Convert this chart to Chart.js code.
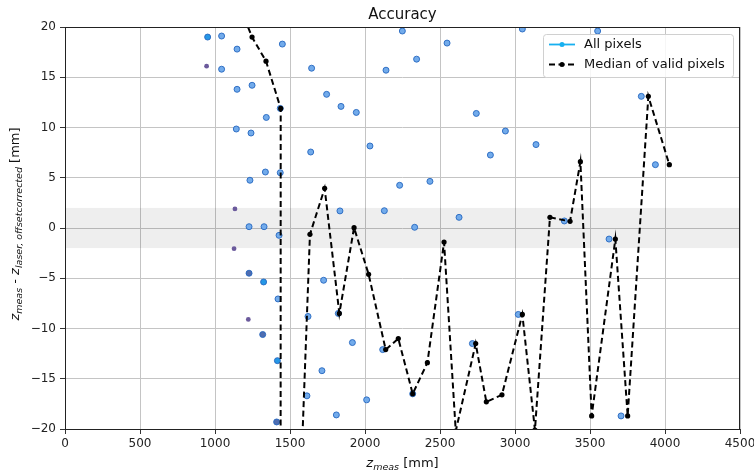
<!DOCTYPE html>
<html>
<head>
<meta charset="utf-8">
<script src="https://cdn.jsdelivr.net/npm/chart.js@4/dist/chart.umd.min.js"></script>
<style>
  html, body { margin: 0; padding: 0; background: #fff; }
  canvas { display: block; }
</style>
</head>
<body>
<canvas id="graph" width="754" height="475"></canvas>
<script>
// measured depth vs. laser reference, all pixels and per-distance median
const allX = [951, 1044, 1147, 1449, 944, 1044, 1644, 1147, 1247, 1744, 1840, 1942, 1435, 1342,
  1142, 1240, 2033, 1638, 1336, 1435, 1233, 1833, 1133, 1227, 1327, 1427, 1127, 1227, 1324,
  1724, 1420, 1620, 1822, 1222, 1318, 1916, 1416, 1713, 1613, 2011, 1809, 1411, 2249, 3049,
  2547, 2344, 2140, 2742, 2936, 3140, 2836, 2231, 2433, 2129, 2627, 2331, 3329, 2118, 2318,
  2716, 3022, 3551, 3842, 3936, 3627, 3707];
const allY = [19.0, 19.1, 17.8, 18.3, 16.1, 15.8, 15.9, 13.8, 14.2, 13.3, 12.1, 11.5, 11.9, 11.0,
  9.85, 9.45, 8.16, 7.56, 5.57, 5.5, 4.75, 1.7, 1.9, 0.13, 0.13, -0.73, -2.06, -4.5, -5.37,
  -5.2, -7.06, -8.8, -8.5, -9.1, -10.6, -11.4, -13.2, -14.2, -16.7, -17.1, -18.6, -19.3, 19.6, 19.8,
  18.4, 16.8, 15.7, 11.4, 9.65, 8.3, 7.26, 4.25, 4.64, 1.72, 1.06, 0.07, 0.7, -12.1, -16.5,
  -11.5, -8.6, 19.6, 13.1, 6.3, -1.1, -18.7];

const medX = [1150, 1247, 1340, 1438, 1437, 1535, 1633, 1731, 1829, 1927, 2024, 2138, 2222, 2318,
  2416, 2527, 2605, 2738, 2809, 2913, 3049, 3133, 3233, 3367, 3436, 3511, 3669, 3751, 3889, 4029];
const medY = [22.6, 19.0, 16.6, 11.9, -60, -40, -0.63, 3.95, -8.5, 0.03, -4.6, -12.1, -11.0, -16.5,
  -13.4, -1.4, -20.2, -11.5, -17.3, -16.6, -8.6, -20.1, 1.06, 0.66, 6.6, -18.7, -1.1, -18.7, 13.1, 6.3];

const xTicks = [0, 500, 1000, 1500, 2000, 2500, 3000, 3500, 4000, 4500];
const yTicks = [-20, -15, -10, -5, 0, 5, 10, 15, 20];
const tolBand = [-2, 2];

const seriesNames = ['All pixels', 'Median of valid pixels'];

// point shading: a few pixels are drawn darker / purple
const faintIdx = new Set([4, 22, 26, 33]);
const deepIdx = new Set([27, 34, 41]);
const brightIdx = new Set([0, 28, 36]);

const FONT = "'DejaVu Sans', sans-serif";

function fillFor(i) {
  if (faintIdx.has(i)) return '#6b5a9c';
  if (deepIdx.has(i)) return '#4f6db0';
  if (brightIdx.has(i)) return '#2597e6';
  return '#72abeb';
}
function edgeFor(i) {
  if (faintIdx.has(i)) return '#6b5a9c';
  return '#2566c0';
}

const decor = {
  id: 'decor',
  beforeDatasetsDraw(chart) {
    const { ctx, chartArea: a, scales: { y } } = chart;
    const top = y.getPixelForValue(tolBand[1]);
    const bot = y.getPixelForValue(tolBand[0]);
    ctx.save();
    ctx.fillStyle = 'rgba(0,0,0,0.065)';
    ctx.fillRect(a.left, top, a.right - a.left, bot - top);
    ctx.restore();
  },
  afterDraw(chart) {
    const { ctx, chartArea: a } = chart;
    ctx.save();
    // frame
    ctx.strokeStyle = '#222';
    ctx.lineWidth = 1;
    ctx.strokeRect(a.left + 0.5, a.top + 0.5, a.right - a.left - 1, a.bottom - a.top);

    // title
    ctx.fillStyle = '#111';
    ctx.font = '15px ' + FONT;
    ctx.textAlign = 'center';
    ctx.textBaseline = 'alphabetic';
    ctx.fillText('Accuracy', (a.left + a.right) / 2, 19);

    // x axis label
    drawMath(ctx, [['z', 'main'], ['meas', 'sub'], [' [mm]', 'plain']], (a.left + a.right) / 2, 467);

    // y axis label, rotated
    ctx.save();
    ctx.translate(19, (a.top + a.bottom) / 2 - 4);
    ctx.rotate(-Math.PI / 2);
    drawMath(ctx, [['z', 'main'], ['meas', 'sub'], [' - ', 'plain'], ['z', 'main'],
      ['laser, offsetcorrected', 'sub'], [' [mm]', 'plain']], 0, 0);
    ctx.restore();

    // legend
    const bx = 543, by = 34, bw = 190, bh = 43;
    ctx.fillStyle = 'rgba(255,255,255,0.85)';
    ctx.strokeStyle = '#d0d0d0';
    ctx.lineWidth = 1;
    ctx.beginPath();
    ctx.roundRect(bx + 0.5, by + 0.5, bw, bh, 3);
    ctx.fill();
    ctx.stroke();

    const rows = [
      { y: by + 10.5, color: '#17b0f0', dash: [], r: 2.5 },
      { y: by + 30.5, color: '#000', dash: [6, 3.5], r: 2.5 }
    ];
    rows.forEach((row, k) => {
      ctx.strokeStyle = row.color;
      ctx.fillStyle = row.color;
      ctx.lineWidth = k === 0 ? 1.8 : 2;
      ctx.setLineDash(row.dash);
      ctx.beginPath();
      ctx.moveTo(bx + 6, row.y);
      ctx.lineTo(bx + 32, row.y);
      ctx.stroke();
      ctx.setLineDash([]);
      ctx.beginPath();
      ctx.arc(bx + 19, row.y, row.r, 0, Math.PI * 2);
      ctx.fill();
      ctx.fillStyle = '#111';
      ctx.font = '13px ' + FONT;
      ctx.textAlign = 'left';
      ctx.textBaseline = 'middle';
      ctx.fillText(seriesNames[k], bx + 41, row.y);
    });
    ctx.restore();
  }
};

// draws "z" with italic subscripts, centred on (cx, baseline)
function drawMath(ctx, parts, cx, base) {
  const fonts = {
    main: 'italic 13px ' + FONT,
    sub: 'italic 9.5px ' + FONT,
    plain: '13px ' + FONT
  };
  let total = 0;
  parts.forEach(([t, k]) => { ctx.font = fonts[k]; total += ctx.measureText(t).width; });
  let x = cx - total / 2;
  ctx.fillStyle = '#111';
  ctx.textAlign = 'left';
  ctx.textBaseline = 'alphabetic';
  parts.forEach(([t, k]) => {
    ctx.font = fonts[k];
    ctx.fillText(t, x, k === 'sub' ? base + 3 : base);
    x += ctx.measureText(t).width;
  });
}

const allPts = allX.map((x, i) => ({ x, y: allY[i] }));
const medPts = medX.map((x, i) => ({ x, y: medY[i] }));

new Chart(document.querySelector('#graph').getContext('2d'), {
  type: 'scatter',
  data: {
    datasets: [{
      label: seriesNames[1],
      data: medPts,
      showLine: true,
      borderColor: '#000',
      borderWidth: 2,
      borderDash: [6, 3.5],
      backgroundColor: '#000',
      pointRadius: 2.6,
      pointBorderWidth: 0,
      clip: 0,
      order: 0
    }, {
      label: seriesNames[0],
      data: allPts,
      showLine: false,
      backgroundColor: ctx => fillFor(ctx.dataIndex),
      borderColor: ctx => edgeFor(ctx.dataIndex),
      pointRadius: ctx => faintIdx.has(ctx.dataIndex) ? 2.4 : 3,
      pointBorderWidth: ctx => faintIdx.has(ctx.dataIndex) ? 0 : 0.9,
      clip: 0,
      order: 1
    }]
  },
  options: {
    responsive: false,
    animation: false,
    layout: { padding: { top: 27, right: 14, left: 0, bottom: 0 } },
    plugins: {
      legend: { display: false },
      title: { display: false },
      tooltip: { enabled: false }
    },
    scales: {
      x: {
        type: 'linear',
        min: xTicks[0],
        max: xTicks[xTicks.length - 1],
        afterBuildTicks: s => { s.ticks = xTicks.map(v => ({ value: v })); },
        afterFit: s => { s.height = 46; s.paddingLeft = 0; s.paddingRight = 0; },
        grid: { color: '#c4c4c4', lineWidth: 1, tickLength: 5, tickColor: '#333', drawTicks: true },
        border: { display: false },
        ticks: {
          color: '#222',
          font: { family: FONT, size: 12 },
          padding: 3,
          maxRotation: 0,
          callback: v => String(v)
        }
      },
      y: {
        type: 'linear',
        min: yTicks[0],
        max: yTicks[yTicks.length - 1],
        afterBuildTicks: s => { s.ticks = yTicks.map(v => ({ value: v })); },
        afterFit: s => { s.width = 65; },
        grid: { color: '#c4c4c4', lineWidth: 1, tickLength: 5, tickColor: '#333', drawTicks: true },
        border: { display: false },
        ticks: {
          color: '#222',
          font: { family: FONT, size: 12 },
          padding: 4,
          callback: v => (v < 0 ? '\u2212' + Math.abs(v) : String(v))
        }
      }
    }
  },
  plugins: [decor]
});
</script>
</body>
</html>
